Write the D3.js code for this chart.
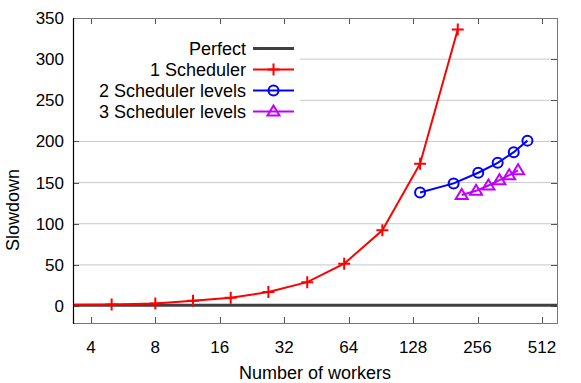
<!DOCTYPE html>
<html>
<head>
<meta charset="utf-8">
<script src="https://cdn.jsdelivr.net/npm/d3@7"></script>
<style>
  body { margin: 0; background: #fff; }
  svg { font-family: "Liberation Sans", Arial, sans-serif; }
</style>
</head>
<body>
<svg id="canvas" width="581" height="383"></svg>
<script>
  // Worker counts and slowdowns
  var X_TICKS = [4, 8, 16, 32, 64, 128, 256, 512];
  var Y_TICKS = [0, 50, 100, 150, 200, 250, 300, 350];

  var perfectX = [3, 700];
  var perfectY = [1, 1];

  var sched1X = [3, 5, 8, 12, 18, 27, 41, 61, 92, 138, 207];
  var sched1Y = [1.3, 2, 3.2, 6.5, 10.1, 17, 29, 51.5, 92, 173, 336];

  var sched2X = [138, 198, 258, 318, 378, 438];
  var sched2Y = [138, 149, 162, 174, 187, 201];

  var sched3X = [216, 252, 288, 324, 360, 396];
  var sched3Y = [135, 140, 146.5, 153, 159, 165];

  var margin = { top: 18, right: 24, bottom: 60, left: 73 };
  var width = 581, height = 383;

  var canvas = d3.select('#canvas');

  var x = d3.scaleLog().base(2)
    .domain([3.3, 602])
    .range([margin.left, width - margin.right]);

  var y = d3.scaleLinear()
    .domain([-20.6, 350])
    .range([height - margin.bottom, margin.top]);

  function zip(xs, ys) {
    return xs.map(function (v, i) { return [v, ys[i]]; });
  }

  var series = [
    { name: 'Perfect', color: '#404040', width: 3, marker: 'none', pts: zip(perfectX, perfectY) },
    { name: '1 Scheduler', color: '#ff0000', width: 2, marker: 'plus', pts: zip(sched1X, sched1Y) },
    { name: '2 Scheduler levels', color: '#0000ff', width: 2, marker: 'circle', pts: zip(sched2X, sched2Y) },
    { name: '3 Scheduler levels', color: '#c000ff', width: 2, marker: 'triangle', pts: zip(sched3X, sched3Y) }
  ];

  canvas.append('defs').append('clipPath')
    .attr('id', 'plot-clip')
    .append('rect')
    .attr('x', x.range()[0])
    .attr('y', y.range()[1])
    .attr('width', x.range()[1] - x.range()[0])
    .attr('height', y.range()[0] - y.range()[1]);

  // Horizontal grid lines
  canvas.append('g')
    .selectAll('line')
    .data(Y_TICKS.filter(function (d) { return d > 0 && d < 350; }))
    .enter()
    .append('line')
    .attr('x1', x.range()[0])
    .attr('x2', x.range()[1])
    .attr('y1', function (d) { return y(d); })
    .attr('y2', function (d) { return y(d); })
    .attr('stroke', '#c8c8c8')
    .attr('stroke-width', 1);

  // Ticks (inward, mirrored)
  var tickLen = 6;
  var ticks = canvas.append('g').attr('stroke', '#555').attr('stroke-width', 1);
  X_TICKS.forEach(function (t) {
    var px = Math.round(x(t)) + 0.5;
    ticks.append('line').attr('x1', px).attr('x2', px)
      .attr('y1', y.range()[0]).attr('y2', y.range()[0] - tickLen);
    ticks.append('line').attr('x1', px).attr('x2', px)
      .attr('y1', y.range()[1]).attr('y2', y.range()[1] + tickLen);
  });
  Y_TICKS.forEach(function (t) {
    var py = Math.round(y(t)) + 0.5;
    ticks.append('line').attr('x1', x.range()[0]).attr('x2', x.range()[0] + tickLen)
      .attr('y1', py).attr('y2', py);
    ticks.append('line').attr('x1', x.range()[1]).attr('x2', x.range()[1] - tickLen)
      .attr('y1', py).attr('y2', py);
  });

  // Tick labels
  canvas.append('g')
    .selectAll('text')
    .data(X_TICKS)
    .enter()
    .append('text')
    .attr('x', function (d) { return x(d); })
    .attr('y', 353)
    .attr('text-anchor', 'middle')
    .attr('font-size', 17)
    .attr('fill', '#000')
    .text(function (d) { return d; });

  canvas.append('g')
    .selectAll('text')
    .data(Y_TICKS)
    .enter()
    .append('text')
    .attr('x', 64)
    .attr('y', function (d) { return y(d) + 6; })
    .attr('text-anchor', 'end')
    .attr('font-size', 17)
    .attr('fill', '#000')
    .text(function (d) { return d; });

  // Axis titles
  canvas.append('text')
    .attr('x', (x.range()[0] + x.range()[1]) / 2)
    .attr('y', 378.5)
    .attr('text-anchor', 'middle')
    .attr('font-size', 18)
    .text('Number of workers');

  canvas.append('text')
    .attr('transform', 'translate(19,210) rotate(-90)')
    .attr('text-anchor', 'middle')
    .attr('font-size', 18)
    .text('Slowdown');

  // Markers
  function drawMarker(g, type, px, py, color) {
    if (type === 'plus') {
      g.append('path')
        .attr('d', 'M' + (px - 6) + ',' + py + 'H' + (px + 6) + 'M' + px + ',' + (py - 6) + 'V' + (py + 6))
        .attr('stroke', color).attr('stroke-width', 2).attr('fill', 'none');
    } else if (type === 'circle') {
      g.append('circle')
        .attr('cx', px).attr('cy', py).attr('r', 5)
        .attr('stroke', color).attr('stroke-width', 2).attr('fill', 'none');
    } else if (type === 'triangle') {
      g.append('path')
        .attr('d', 'M' + px + ',' + (py - 6) + 'L' + (px + 6) + ',' + (py + 4) + 'L' + (px - 6) + ',' + (py + 4) + 'Z')
        .attr('stroke', color).attr('stroke-width', 2).attr('fill', 'none');
    }
  }

  var line = d3.line()
    .x(function (d) { return x(d[0]); })
    .y(function (d) { return y(d[1]); });

  var plot = canvas.append('g').attr('clip-path', 'url(#plot-clip)');
  series.forEach(function (s) {
    plot.append('path')
      .datum(s.pts)
      .attr('d', line)
      .attr('fill', 'none')
      .attr('stroke', s.color)
      .attr('stroke-width', s.width);
    var mg = plot.append('g');
    s.pts.forEach(function (p) {
      drawMarker(mg, s.marker, x(p[0]), y(p[1]), s.color);
    });
  });

  // Legend with white background
  var legend = canvas.append('g');
  legend.append('rect')
    .attr('x', x.range()[0] + 1)
    .attr('y', 37)
    .attr('width', 300 - x.range()[0] - 1)
    .attr('height', 85)
    .attr('fill', '#fff');

  var legendRows = [48.5, 69.5, 90.5, 111.5];
  series.forEach(function (s, i) {
    var ly = legendRows[i];
    legend.append('text')
      .attr('x', 246)
      .attr('y', ly + 6.5)
      .attr('text-anchor', 'end')
      .attr('font-size', 18)
      .text(s.name);
    legend.append('line')
      .attr('x1', 253).attr('x2', 294)
      .attr('y1', ly).attr('y2', ly)
      .attr('stroke', s.color)
      .attr('stroke-width', s.width);
    drawMarker(legend, s.marker, 273.5, ly, s.color);
  });

  // Frame
  canvas.append('rect')
    .attr('x', x.range()[0] + 0.5)
    .attr('y', y.range()[1] + 0.5)
    .attr('width', x.range()[1] - x.range()[0])
    .attr('height', y.range()[0] - y.range()[1])
    .attr('fill', 'none')
    .attr('stroke', '#777')
    .attr('stroke-width', 1);
  canvas.append('line')
    .attr('x1', x.range()[0] + 0.5).attr('x2', x.range()[0] + 0.5)
    .attr('y1', y.range()[1]).attr('y2', y.range()[0] + 1)
    .attr('stroke', '#000')
    .attr('stroke-width', 1.2);
</script>
</body>
</html>
